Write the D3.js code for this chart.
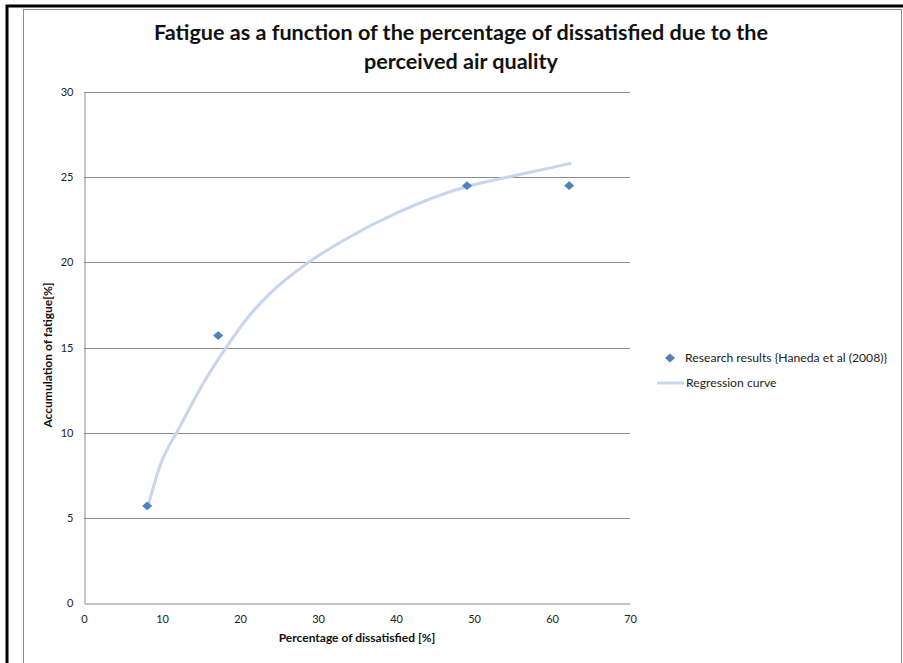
<!DOCTYPE html>
<html><head><meta charset="utf-8">
<script src="https://cdn.jsdelivr.net/npm/d3@7"></script>
<style>body{margin:0;background:#fff;} text{font-family:Lato, "Open Sans", sans-serif;}</style>
</head><body>
<svg id="c" width="903" height="663"></svg>
<script>
const titleLines = ["Fatigue as a function of the percentage of dissatisfied due to the", "perceived air quality"];
const xTicks = [0, 10, 20, 30, 40, 50, 60, 70];
const yTicks = [0, 5, 10, 15, 20, 25, 30];
const researchX = [8.1, 17.2, 49.1, 62.2];
const researchY = [5.7, 15.7, 24.5, 24.5];
const curveX = [8.25, 9.7, 12.3, 15.3, 18.3, 20.9, 23.8, 28.8, 33.7, 40.1, 49.1, 55.0, 62.3];
const curveY = [5.75, 8.0, 10.35, 12.9, 15.05, 16.7, 18.15, 20.0, 21.4, 22.9, 24.45, 25.07, 25.8];
const legendLabels = ["Research results {Haneda et al (2008)}", "Regression curve"];
const xLabel = "Percentage of dissatisfied  [%]";
const yLabel = "Accumulation of fatigue[%]";

const svg = d3.select("#c");
// outer frames
svg.append("path").attr("d","M7,670 V6 H910").attr("fill","none").attr("stroke","#000").attr("stroke-width",3);
svg.append("rect").attr("x",23.5).attr("y",9.5).attr("width",878).attr("height",670).attr("fill","none").attr("stroke","#8c8c8c").attr("stroke-width",1);

const x = d3.scaleLinear().domain([0,70]).range([84,630]);
const y = d3.scaleLinear().domain([0,30]).range([603,92]);

// gridlines
svg.append("g").selectAll("line").data(yTicks.filter(d=>d>0)).join("line")
  .attr("x1",x(0)).attr("x2",x(70)).attr("y1",d=>Math.round(y(d))+0.5).attr("y2",d=>Math.round(y(d))+0.5)
  .attr("stroke","#8c8c8c").attr("stroke-width",1);

// axes
const gx = svg.append("g").attr("transform",`translate(0,${Math.round(y(0))+0.5})`)
  .call(d3.axisBottom(x).tickValues(xTicks).tickSize(0).tickPadding(12));
const gy = svg.append("g").attr("transform",`translate(${x(0)+0.5},0)`)
  .call(d3.axisLeft(y).tickValues(yTicks).tickSize(0).tickPadding(11));
[gx,gy].forEach(g=>{
  g.select(".domain").attr("stroke","#8c8c8c");
  g.selectAll("text").attr("font-size",11).attr("fill","#222").attr("font-family","Lato, sans-serif");
});

// regression curve
const curvePts = curveX.map((d,i)=>[d,curveY[i]]);
svg.append("path").datum(curvePts)
  .attr("d", d3.line().x(d=>x(d[0])).y(d=>y(d[1])).curve(d3.curveMonotoneX))
  .attr("fill","none").attr("stroke","#c6d6ee").attr("stroke-width",3).attr("stroke-linecap","round");

// research points (diamond = rotated square)
const diamond = d3.symbol().type(d3.symbolSquare).size(46);
svg.append("g").selectAll("path").data(researchX.map((d,i)=>[d,researchY[i]])).join("path")
  .attr("d", diamond).attr("transform", d=>`translate(${x(d[0])},${y(d[1])}) scale(1.05,0.92) rotate(45)`)
  .attr("fill","#4f81bd");

// title
svg.append("g").selectAll("text").data(titleLines).join("text")
  .attr("x",461).attr("y",(d,i)=>40+i*29).attr("text-anchor","middle")
  .attr("font-size",21.6).attr("font-weight","bold").attr("fill","#111").text(d=>d);

// axis titles
svg.append("text").attr("x",357).attr("y",642).attr("text-anchor","middle")
  .attr("font-size",12).attr("font-weight","bold").attr("fill","#111").text(xLabel);
svg.append("text").attr("transform","translate(52,355) rotate(-90)").attr("text-anchor","middle")
  .attr("font-size",12).attr("font-weight","bold").attr("fill","#111").text(yLabel);

// legend
const lg = svg.append("g");
lg.append("path").attr("d",diamond).attr("transform","translate(670,358) scale(1.05,0.92) rotate(45)").attr("fill","#4f81bd");
lg.append("line").attr("x1",657).attr("x2",684).attr("y1",383).attr("y2",383).attr("stroke","#c6d6ee").attr("stroke-width",3);
lg.selectAll("text").data(legendLabels).join("text")
  .attr("x",(d,i)=>i===0?685:686).attr("y",(d,i)=>362+i*25)
  .attr("font-size",12.2).attr("fill","#222").text(d=>d);
</script>
</body></html>
